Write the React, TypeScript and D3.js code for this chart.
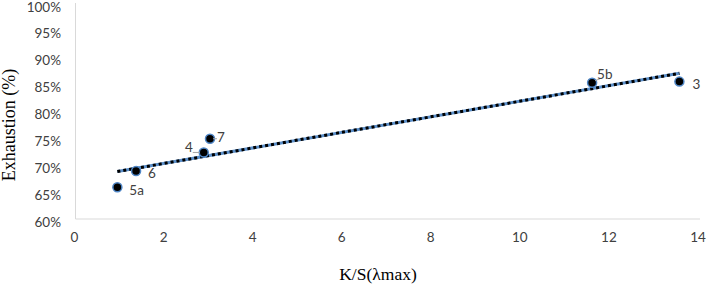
import React from "react";
import * as d3 from "d3";

const labels = ["5a", "6", "4", "7", "5b", "3"];
const ksValues = [0.94, 1.36, 2.88, 3.02, 11.6, 13.56];
const exhaustion = [0.659, 0.689, 0.7235, 0.749, 0.853, 0.855];
const xTicks = [0, 2, 4, 6, 8, 10, 12, 14];
const yTicks = [0.6, 0.65, 0.7, 0.75, 0.8, 0.85, 0.9, 0.95, 1.0];

const W = 708;
const H = 287;

export default function App() {
  const x = d3.scaleLinear().domain([0, 14]).range([75.5, 699]);
  const y = d3.scaleLinear().domain([0.6, 1.0]).range([219, 3.5]);

  const n = ksValues.length;
  const mx = d3.mean(ksValues)!;
  const my = d3.mean(exhaustion)!;
  let sxy = 0, sxx = 0;
  for (let i = 0; i < n; i++) {
    sxy += (ksValues[i] - mx) * (exhaustion[i] - my);
    sxx += (ksValues[i] - mx) ** 2;
  }
  const slope = sxy / sxx;
  const intercept = my - slope * mx;
  const x0 = d3.min(ksValues)!;
  const x1 = d3.max(ksValues)!;
  const line = d3.line<number>().x((d) => x(d)).y((d) => y(intercept + slope * d));
  const trend = line([x0, x1]) || "";

  const labelFont = "Lato, 'Open Sans', 'Noto Sans', sans-serif";
  const fs = 13.5;

  const labelOffsets: Record<string, { dx: number; dy: number; anchor: string }> = {
    "5a": { dx: 12, dy: 8, anchor: "start" },
    "6": { dx: 12, dy: 7, anchor: "start" },
    "4": { dx: -11, dy: 0, anchor: "end" },
    "7": { dx: 7, dy: 3, anchor: "start" },
    "5b": { dx: 5, dy: -4, anchor: "start" },
    "3": { dx: 13, dy: 7, anchor: "start" },
  };

  return (
    <svg width={W} height={H} style={{ position: "absolute", left: 0, top: 0, background: "#fff" }}>
      <rect width={W} height={H} fill="#fff" />
      {/* axes */}
      <line x1={75.5} x2={75.5} y1={3} y2={219} stroke="#d9d9d9" strokeWidth={1} />
      <line x1={75.5} x2={700} y1={219} y2={219} stroke="#d9d9d9" strokeWidth={1} />
      {yTicks.map((t) => (
        <text
          key={"y" + t}
          x={61}
          y={y(t) + 8}
          textAnchor="end"
          fontFamily={labelFont}
          fontSize={fs}
          fill="#404040"
        >
          {Math.round(t * 100)}%
        </text>
      ))}
      {xTicks.map((t) => (
        <text
          key={"x" + t}
          x={x(t) - 1}
          y={241.5}
          textAnchor="middle"
          fontFamily={labelFont}
          fontSize={fs}
          fill="#404040"
        >
          {t}
        </text>
      ))}
      {/* trendline */}
      <path d={trend} stroke="#5b8fc9" strokeWidth={3} fill="none" />
      <path d={trend} stroke="#000" strokeWidth={3} strokeDasharray="3,3" fill="none" />
      {/* points */}
      {ksValues.map((v, i) => (
        <circle key={"p" + i} cx={x(v)} cy={y(exhaustion[i])} r={4.5} fill="#000" stroke="#4f86c6" strokeWidth={1.5} />
      ))}
      {labels.map((l, i) => {
        const o = labelOffsets[l];
        const px = x(ksValues[i]);
        const py = y(exhaustion[i]);
        return (
          <g key={"l" + l}>
            {l === "4" && (
              <line x1={px - 11} y1={py} x2={px - 4} y2={py} stroke="#a6a6a6" strokeWidth={1} />
            )}
            {l === "5b" && (
              <line x1={px + 3} y1={py - 2} x2={px + 8} y2={py - 4} stroke="#a6a6a6" strokeWidth={1} />
            )}
            {l === "7" && (
              <line x1={px + 3} y1={py} x2={px + 7} y2={py} stroke="#a6a6a6" strokeWidth={1} />
            )}
            <text
              x={px + o.dx}
              y={py + o.dy}
              textAnchor={o.anchor as any}
              fontFamily={labelFont}
              fontSize={fs}
              fill="#404040"
            >
              {l}
            </text>
          </g>
        );
      })}
      {/* axis titles */}
      <text
        x={378}
        y={280}
        textAnchor="middle"
        fontFamily="'Liberation Serif', 'Times New Roman', serif"
        fontSize={17.5}
        fill="#000"
      >
        K/S(λmax)
      </text>
      <text
        transform={`translate(15,125) rotate(-90)`}
        textAnchor="middle"
        fontFamily="'Liberation Serif', 'Times New Roman', serif"
        fontSize={18}
        fill="#000"
      >
        Exhaustion (%)
      </text>
    </svg>
  );
}
